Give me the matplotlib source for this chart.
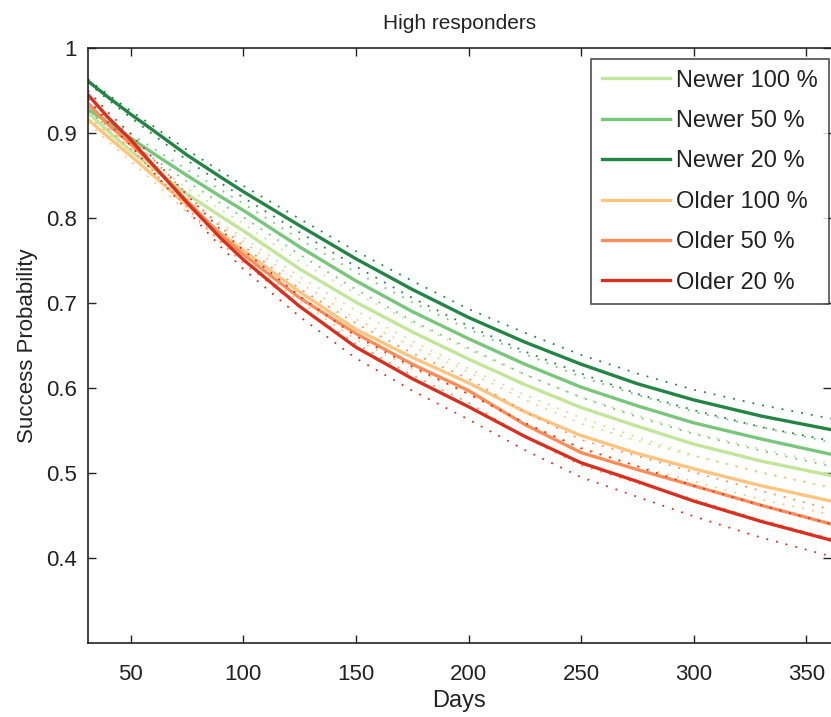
import matplotlib
matplotlib.use("Agg")
import matplotlib.pyplot as plt
import numpy as np

plt.rcParams['font.family'] = ['Liberation Sans', 'DejaVu Sans']

days = [31, 40, 50, 60, 75, 90, 100, 125, 150, 175, 200, 225, 250, 275, 300, 330, 361]

labels = ["Newer 100 %", "Newer 50 %", "Newer 20 %", "Older 100 %", "Older 50 %", "Older 20 %"]
colors = ["#c2e699", "#78c679", "#238443", "#fdc57f", "#fc8d59", "#d7301f"]

newer_100 = [0.924, 0.902, 0.879, 0.858, 0.828, 0.802, 0.785, 0.740, 0.701, 0.666, 0.634, 0.604, 0.577, 0.555, 0.534, 0.514, 0.497]
newer_50  = [0.928, 0.912, 0.894, 0.876, 0.850, 0.825, 0.809, 0.766, 0.726, 0.690, 0.658, 0.628, 0.601, 0.579, 0.559, 0.540, 0.522]
newer_20  = [0.961, 0.942, 0.922, 0.903, 0.874, 0.848, 0.831, 0.791, 0.752, 0.716, 0.683, 0.654, 0.628, 0.605, 0.586, 0.567, 0.551]
older_100 = [0.916, 0.895, 0.873, 0.850, 0.815, 0.782, 0.762, 0.713, 0.669, 0.636, 0.606, 0.572, 0.544, 0.523, 0.505, 0.485, 0.467]
older_50  = [0.935, 0.910, 0.887, 0.862, 0.820, 0.780, 0.757, 0.706, 0.664, 0.628, 0.597, 0.557, 0.524, 0.504, 0.485, 0.462, 0.440]
older_20  = [0.945, 0.918, 0.892, 0.862, 0.818, 0.776, 0.751, 0.696, 0.648, 0.611, 0.578, 0.543, 0.512, 0.490, 0.467, 0.443, 0.421]

# half-widths of the dotted confidence bands
hw_newer_100 = [0.003, 0.004, 0.005, 0.006, 0.007, 0.008, 0.008, 0.009, 0.010, 0.011, 0.011, 0.012, 0.012, 0.013, 0.013, 0.014, 0.014]
hw_newer_50  = [0.003, 0.004, 0.005, 0.006, 0.007, 0.008, 0.008, 0.009, 0.010, 0.011, 0.011, 0.012, 0.012, 0.013, 0.013, 0.014, 0.014]
hw_newer_20  = [0.002, 0.003, 0.004, 0.005, 0.006, 0.007, 0.007, 0.008, 0.009, 0.010, 0.010, 0.011, 0.011, 0.012, 0.012, 0.013, 0.013]
hw_older_100 = [0.004, 0.005, 0.006, 0.007, 0.008, 0.009, 0.010, 0.011, 0.012, 0.013, 0.013, 0.014, 0.014, 0.015, 0.015, 0.016, 0.016]
hw_older_50  = [0.004, 0.005, 0.006, 0.007, 0.008, 0.009, 0.010, 0.011, 0.012, 0.013, 0.014, 0.015, 0.015, 0.016, 0.016, 0.017, 0.017]
hw_older_20  = [0.005, 0.006, 0.007, 0.008, 0.009, 0.010, 0.011, 0.012, 0.013, 0.014, 0.015, 0.016, 0.017, 0.018, 0.018, 0.019, 0.019]

series = [newer_100, newer_50, newer_20, older_100, older_50, older_20]
halfw = [hw_newer_100, hw_newer_50, hw_newer_20, hw_older_100, hw_older_50, hw_older_20]

xticks = [50, 100, 150, 200, 250, 300, 350]
yticks = [0.4, 0.5, 0.6, 0.7, 0.8, 0.9, 1.0]
yticklabels = ["0.4", "0.5", "0.6", "0.7", "0.8", "0.9", "1"]

fig = plt.figure(figsize=(8.31, 7.17), dpi=100)
ax = fig.add_axes([88/831, 74/717, 743/831, 595/717])

handles = []
for vals, hw, col, lab in zip(series, halfw, colors, labels):
    v = np.array(vals)
    h = np.array(hw)
    ax.plot(days, v + h, color=col, lw=1.3, linestyle=(0, (1, 4.5)))
    ax.plot(days, v - h, color=col, lw=1.3, linestyle=(0, (1, 4.5)))
    ln, = ax.plot(days, v, color=col, lw=2.4, label=lab)
    handles.append(ln)

ax.set_xlim(31, 361)
ax.set_ylim(0.3, 1.0)
ax.set_xticks(xticks)
ax.set_xticklabels([str(t) for t in xticks])
ax.set_yticks(yticks)
ax.set_yticklabels(yticklabels)
ax.tick_params(direction='in', length=6, width=1, top=True, right=True,
               labelsize=16, colors='#222222')
ax.tick_params(axis='y', pad=8)
ax.tick_params(axis='x', pad=15)
for s in ['left', 'bottom', 'top']:
    ax.spines[s].set_linewidth(1.2)
    ax.spines[s].set_color('#222222')
ax.spines['right'].set_visible(False)

ax.set_xlabel("Days", fontsize=17, color='#222222', labelpad=4)
ax.set_ylabel("Success Probability", fontsize=16, color='#222222', labelpad=6)
ax.set_title("High responders", fontsize=15, color='#222222', pad=14)

leg = ax.legend(handles=handles, loc='upper right', bbox_to_anchor=(0.997, 0.9815),
                borderaxespad=0, fontsize=17, frameon=True, fancybox=False,
                edgecolor='#222222', handlelength=2.9, handletextpad=0.25,
                labelspacing=0.78, borderpad=0.45)
leg.get_frame().set_linewidth(1.2)
for t in leg.get_texts():
    t.set_color('#222222')

fig.savefig("out.png", dpi=100)
